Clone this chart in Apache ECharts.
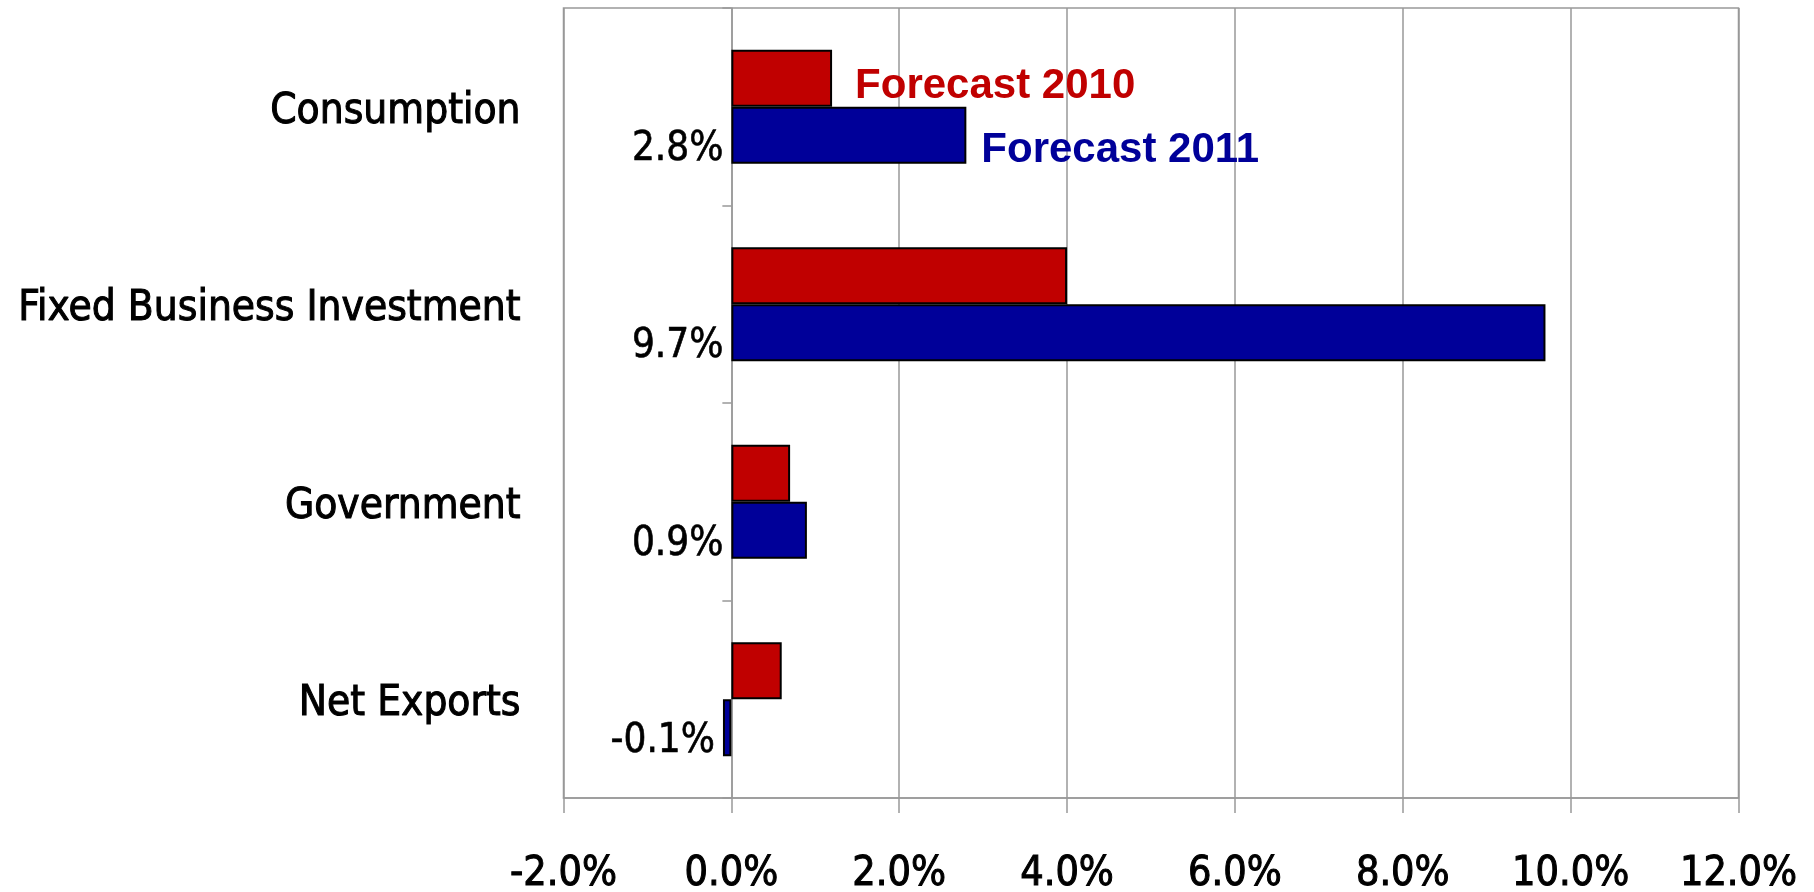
<!DOCTYPE html>
<html>
<head>
<meta charset="utf-8">
<script src="https://cdn.jsdelivr.net/npm/echarts@6/dist/echarts.min.js"></script>
<style>html,body{margin:0;padding:0;background:#fff;}#c{width:1814px;height:892px;}</style>
</head>
<body>
<div id="c"></div>
<script>
const categories = ['Consumption', 'Fixed Business Investment', 'Government', 'Net Exports'];
const forecast2010 = [1.2, 4.0, 0.7, 0.6];
const forecast2011 = [2.8, 9.7, 0.9, -0.1];
const seriesNames = ['Forecast 2010', 'Forecast 2011'];
const xTicks = { min: -2, max: 12, interval: 2 };

const RED = '#C00000', BLUE = '#000099', GRAY = '#999999';
const NARROW = "'Liberation Sans Narrow', 'Arial Narrow', 'DejaVu Sans Condensed', sans-serif";
const SANS = "'Liberation Sans', Arial, sans-serif";

const chart = echarts.init(document.getElementById('c'), null, { renderer: 'canvas' });

const redData = forecast2010.map((v, i) => i === 0 ? {
  value: v,
  label: { show: true, position: 'right', distance: 23, offset: [0, 8], formatter: '{a}',
           color: RED, fontFamily: SANS, fontWeight: 'bold', fontSize: 42 }
} : v);

chart.setOption({
  animation: false,
  backgroundColor: '#fff',
  grid: { left: 563.5, right: 75.5, top: 8, bottom: 94, containLabel: false, outerBoundsMode: 'none',
          show: true, borderColor: GRAY, borderWidth: 1.5, backgroundColor: 'transparent' },
  xAxis: {
    type: 'value', min: xTicks.min, max: xTicks.max, interval: xTicks.interval,
    axisLine: { show: true, onZero: false, lineStyle: { color: GRAY, width: 1.5 } },
    axisTick: { show: true, length: 15, lineStyle: { color: GRAY, width: 1.5 } },
    splitLine: { show: true, lineStyle: { color: GRAY, width: 1.5 } },
    axisLabel: { formatter: v => v.toFixed(1) + '%', color: '#000', fontFamily: NARROW, fontSize: 41, margin: 56,
                 textBorderColor: '#000', textBorderWidth: 1,
                 hideOverlap: false, showMinLabel: true, showMaxLabel: true }
  },
  yAxis: {
    type: 'category', data: categories, inverse: true,
    axisLine: { show: true, onZero: true, lineStyle: { color: GRAY, width: 1.5 } },
    axisTick: { show: true, length: 9, lineStyle: { color: GRAY, width: 1.5 } },
    axisLabel: { color: '#000', fontFamily: NARROW, fontSize: 42, margin: 43, verticalAlign: 'top', lineHeight: 10,
                 textBorderColor: '#000', textBorderWidth: 1 },
    splitLine: { show: false }
  },
  series: [
    {
      name: seriesNames[0], type: 'bar', data: redData, barWidth: 57, barGap: '0%',
      itemStyle: { color: RED, borderColor: '#000', borderWidth: 2 },
      label: { show: false }
    },
    {
      name: seriesNames[1], type: 'bar', data: forecast2011, barWidth: 57, barGap: '0%',
      itemStyle: { color: BLUE, borderColor: '#000', borderWidth: 2 },
      label: { show: true, position: 'left', distance: 8, offset: [0, 14],
               formatter: p => p.value.toFixed(1) + '%', color: '#000', fontFamily: NARROW, fontSize: 40,
               textBorderColor: '#000', textBorderWidth: 0.6 },
      markPoint: {
        symbol: 'circle', symbolSize: 0,
        data: [{ coord: [forecast2011[0], categories[0]] }],
        label: { show: true, position: 'right', distance: 15, offset: [0, 15], formatter: seriesNames[1],
                 color: BLUE, fontFamily: SANS, fontWeight: 'bold', fontSize: 42 }
      }
    }
  ]
});
</script>
</body>
</html>
